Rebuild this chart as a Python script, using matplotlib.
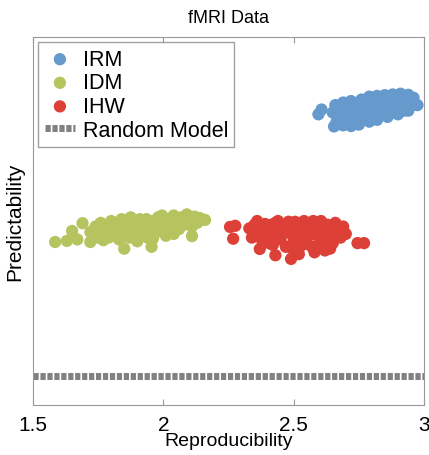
import matplotlib
matplotlib.use("Agg")
import matplotlib.pyplot as plt

plt.rcParams['font.family'] = ['Liberation Sans', 'DejaVu Sans']

# Reproducibility / predictability values
irm_x = [2.595, 2.607, 2.655, 2.690, 2.720, 2.750, 2.790, 2.820, 2.860, 2.900, 2.940, 2.975,
         2.660, 2.690, 2.720, 2.760, 2.790, 2.820, 2.850, 2.880, 2.910, 2.940, 2.960,
         2.650, 2.670, 2.680, 2.700, 2.710, 2.730, 2.740, 2.750, 2.770, 2.780, 2.790,
         2.800, 2.810, 2.830, 2.840, 2.850, 2.860, 2.870, 2.880, 2.890, 2.900, 2.920,
         2.930, 2.950, 2.665, 2.700, 2.760, 2.820,
         2.675, 2.695, 2.715, 2.735, 2.755, 2.775, 2.795, 2.815, 2.835, 2.855, 2.875,
         2.895, 2.915, 2.935, 2.955, 2.725, 2.765, 2.805, 2.845, 2.885, 2.925]
irm_y = [0.790, 0.803, 0.757, 0.760, 0.758, 0.762, 0.770, 0.775, 0.783, 0.790, 0.800, 0.815,
         0.815, 0.822, 0.826, 0.830, 0.838, 0.840, 0.842, 0.844, 0.846, 0.843, 0.835,
         0.795, 0.785, 0.805, 0.795, 0.782, 0.808, 0.790, 0.775, 0.815, 0.800, 0.785,
         0.822, 0.805, 0.815, 0.795, 0.828, 0.810, 0.800, 0.825, 0.812, 0.832, 0.822,
         0.810, 0.828, 0.770, 0.772, 0.800, 0.828,
         0.800, 0.810, 0.795, 0.820, 0.805, 0.790, 0.828, 0.790, 0.830, 0.800, 0.835,
         0.805, 0.835, 0.818, 0.815, 0.778, 0.788, 0.780, 0.812, 0.795, 0.800]

idm_x = [1.585, 1.630, 1.650, 1.670, 1.690, 1.720, 1.850, 1.955, 2.110, 2.160,
         1.720, 1.740, 1.750, 1.760, 1.780, 1.790, 1.800, 1.810, 1.820, 1.830,
         1.840, 1.850, 1.860, 1.870, 1.880, 1.890, 1.900, 1.910, 1.920, 1.930,
         1.940, 1.950, 1.960, 1.970, 1.980, 1.990, 2.000, 2.010, 2.020, 2.030,
         2.040, 2.050, 2.060, 2.070, 2.080, 2.090, 2.100, 2.110, 2.120, 2.130,
         2.140, 1.770, 1.900, 1.960, 2.040,
         1.735, 1.765, 1.795, 1.825, 1.855, 1.885, 1.915, 1.945, 1.975, 2.005,
         2.035, 2.065, 2.095, 2.125, 1.815, 1.875, 1.935, 1.995, 2.055, 1.745]
idm_y = [0.443, 0.446, 0.473, 0.450, 0.494, 0.443, 0.425, 0.430, 0.459, 0.503,
         0.470, 0.485, 0.460, 0.495, 0.475, 0.455, 0.500, 0.485, 0.465, 0.450,
         0.505, 0.488, 0.470, 0.455, 0.500, 0.480, 0.462, 0.505, 0.490, 0.470,
         0.455, 0.500, 0.485, 0.468, 0.510, 0.492, 0.475, 0.460, 0.505, 0.488,
         0.515, 0.495, 0.478, 0.510, 0.490, 0.518, 0.500, 0.485, 0.512, 0.495,
         0.508, 0.448, 0.445, 0.452, 0.465,
         0.475, 0.462, 0.490, 0.478, 0.460, 0.490, 0.475, 0.492, 0.480, 0.500,
         0.472, 0.500, 0.510, 0.505, 0.495, 0.510, 0.505, 0.515, 0.485, 0.455]

ihw_x = [2.256, 2.276, 2.268, 2.370, 2.430, 2.490, 2.745, 2.770,
         2.330, 2.340, 2.350, 2.370, 2.380, 2.390, 2.400, 2.410, 2.420, 2.430,
         2.440, 2.450, 2.460, 2.470, 2.480, 2.490, 2.500, 2.510, 2.520, 2.530,
         2.540, 2.550, 2.560, 2.570, 2.580, 2.590, 2.600, 2.610, 2.620, 2.630,
         2.640, 2.650, 2.660, 2.670, 2.680, 2.690, 2.700, 2.520, 2.580, 2.640,
         2.360, 2.440,
         2.345, 2.365, 2.395, 2.415, 2.455, 2.475, 2.505, 2.525, 2.555, 2.575,
         2.605, 2.625, 2.655, 2.675, 2.545, 2.595, 2.615, 2.495, 2.685, 2.405]
ihw_y = [0.484, 0.487, 0.452, 0.424, 0.407, 0.397, 0.440, 0.440,
         0.480, 0.455, 0.490, 0.470, 0.445, 0.492, 0.478, 0.455, 0.435, 0.495,
         0.470, 0.450, 0.485, 0.430, 0.498, 0.465, 0.445, 0.485, 0.425, 0.470,
         0.500, 0.450, 0.485, 0.430, 0.465, 0.495, 0.445, 0.478, 0.420, 0.490,
         0.460, 0.440, 0.495, 0.475, 0.455, 0.485, 0.465, 0.410, 0.415, 0.425,
         0.500, 0.500,
         0.468, 0.485, 0.460, 0.490, 0.468, 0.480, 0.498, 0.455, 0.470, 0.500,
         0.500, 0.462, 0.470, 0.458, 0.438, 0.430, 0.445, 0.425, 0.470, 0.440]

random_model = 0.079

fig = plt.figure(figsize=(4.29, 4.56), dpi=100)
ax = fig.add_axes([0.0769, 0.1096, 0.9114, 0.807])

ms = 78
ax.scatter(irm_x, irm_y, s=ms, color='#6699cc', edgecolors='none', label='IRM')
ax.scatter(idm_x, idm_y, s=ms, color='#b6c460', edgecolors='none', label='IDM')
ax.scatter(ihw_x, ihw_y, s=ms, color='#dc4037', edgecolors='none', label='IHW')
ax.axhline(random_model, color='#808080', linewidth=5, linestyle=(0, (0.75, 0.25)),
           label='Random Model')

ax.set_xlim(1.5, 3)
ax.set_ylim(0, 1)
ax.set_xticks([1.5, 2, 2.5, 3])
ax.set_xticklabels(['1.5', '2', '2.5', '3'])
ax.set_yticks([])
ax.tick_params(axis='x', direction='in', top=True, length=4, color='#999999',
               labelsize=15, pad=7)
for sp in ax.spines.values():
    sp.set_color('#999999')

ax.set_title('fMRI Data', fontsize=13, pad=11)
ax.set_xlabel('Reproducibility', fontsize=14, labelpad=-1)
ax.set_ylabel('Predictability', fontsize=15, labelpad=6)

leg = ax.legend(loc='upper left', fontsize=15.5, frameon=True, fancybox=False,
                borderaxespad=0.25, handlelength=1.4, handletextpad=0.35,
                labelspacing=0.12, borderpad=0.3, markerscale=1.0)
leg.get_frame().set_edgecolor('#888888')
leg.get_frame().set_linewidth(1)

fig.savefig('out.png', dpi=100)
